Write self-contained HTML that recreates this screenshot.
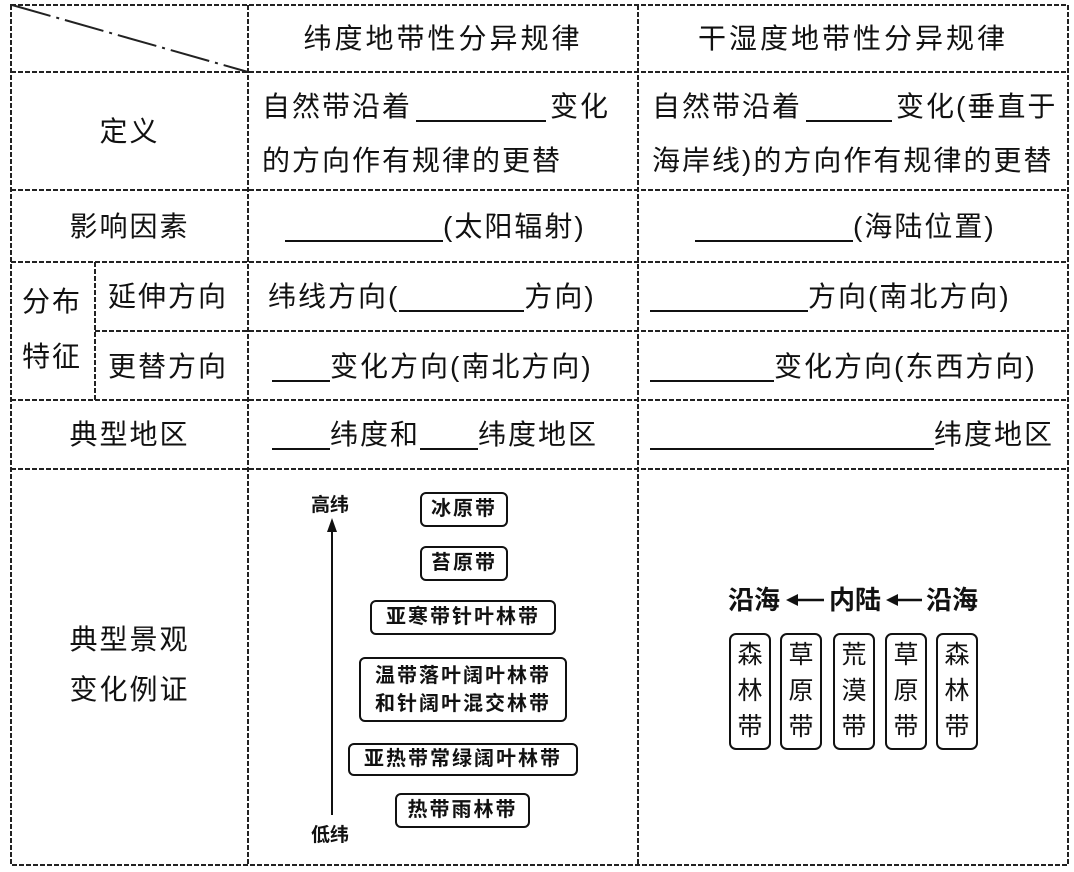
<!DOCTYPE html>
<html><head><meta charset="utf-8"><style>
body{margin:0;width:1074px;height:872px;background:#fff;position:relative;overflow:hidden;font-family:"Liberation Sans","Noto Sans CJK SC",sans-serif;color:#111}
.t{position:absolute;font-size:28px;line-height:34px;white-space:nowrap;letter-spacing:2px}
.c{text-align:center}
.u{display:inline-block;border-bottom:2px solid #111;height:30px;vertical-align:-6px}
.b{position:absolute;border:2px solid #111;border-radius:6px;box-sizing:border-box;font-weight:bold;font-size:20px;text-align:center;letter-spacing:2px}
.s{position:absolute;font-weight:bold;font-size:19px}
.v{position:absolute;border:2px solid #111;border-radius:7px;box-sizing:border-box;font-size:25px;line-height:36px;text-align:center;padding-top:2px;width:42px;top:633px;height:117px}
.h{position:absolute;top:583px;font-size:26px;font-weight:bold;line-height:34px}
</style></head><body>
<svg width="1074" height="872" style="position:absolute;left:0;top:0">
<g stroke="#222" stroke-width="2" stroke-dasharray="5,2" fill="none">
<rect x="11" y="5" width="1057" height="860"/>
<line x1="248" y1="5" x2="248" y2="865"/>
<line x1="638" y1="5" x2="638" y2="865"/>
<line x1="11" y1="72" x2="1068" y2="72"/>
<line x1="11" y1="190" x2="1068" y2="190"/>
<line x1="11" y1="262" x2="1068" y2="262"/>
<line x1="95" y1="331" x2="1068" y2="331"/>
<line x1="95" y1="262" x2="95" y2="400"/>
<line x1="11" y1="400" x2="1068" y2="400"/>
<line x1="11" y1="469" x2="1068" y2="469"/>
</g>
<line x1="12" y1="5" x2="248" y2="72" stroke="#222" stroke-width="2" stroke-dasharray="40,6,3,6"/>
<line x1="332" y1="815" x2="332" y2="530" stroke="#111" stroke-width="2"/>
<polygon points="332,518 327,532 337,532" fill="#111"/>
<line x1="792" y1="600" x2="824" y2="600" stroke="#111" stroke-width="2.5"/>
<polygon points="786,600 798,594 798,606" fill="#111"/>
<line x1="892" y1="600" x2="922" y2="600" stroke="#111" stroke-width="2.5"/>
<polygon points="886,600 898,594 898,606" fill="#111"/>
</svg>
<div class="t c" style="left:248px;width:390px;top:22px;letter-spacing:3px">纬度地带性分异规律</div>
<div class="t c" style="left:638px;width:430px;top:22px;letter-spacing:3px">干湿度地带性分异规律</div>
<div class="t c" style="left:11px;width:237px;top:115px">定义</div>
<div class="t" style="left:262px;top:90px">自然带沿着<span class="u" style="width:130px;margin:0 4px"></span>变化</div>
<div class="t" style="left:262px;top:144px">的方向作有规律的更替</div>
<div class="t" style="left:652px;top:90px">自然带沿着<span class="u" style="width:86px;margin:0 4px"></span>变化(垂直于</div>
<div class="t" style="left:652px;top:144px">海岸线)的方向作有规律的更替</div>
<div class="t c" style="left:11px;width:237px;top:210px">影响因素</div>
<div class="t" style="left:285px;top:210px"><span class="u" style="width:158px"></span>(太阳辐射)</div>
<div class="t" style="left:695px;top:210px"><span class="u" style="width:158px"></span>(海陆位置)</div>
<div class="t" style="left:22px;top:285px">分布</div>
<div class="t" style="left:22px;top:340px">特征</div>
<div class="t" style="left:108px;top:280px">延伸方向</div>
<div class="t" style="left:108px;top:350px">更替方向</div>
<div class="t" style="left:268px;top:280px">纬线方向(<span class="u" style="width:125px"></span>方向)</div>
<div class="t" style="left:650px;top:280px"><span class="u" style="width:158px"></span>方向(南北方向)</div>
<div class="t" style="left:272px;top:350px"><span class="u" style="width:58px"></span>变化方向(南北方向)</div>
<div class="t" style="left:650px;top:350px"><span class="u" style="width:124px"></span>变化方向(东西方向)</div>
<div class="t c" style="left:11px;width:237px;top:418px">典型地区</div>
<div class="t" style="left:272px;top:418px"><span class="u" style="width:58px"></span>纬度和<span class="u" style="width:58px"></span>纬度地区</div>
<div class="t" style="left:650px;top:418px"><span class="u" style="width:284px"></span>纬度地区</div>
<div class="t c" style="left:11px;width:237px;top:623px">典型景观</div>
<div class="t c" style="left:11px;width:237px;top:673px">变化例证</div>
<div class="s" style="left:311px;top:490px">高纬</div>
<div class="s" style="left:311px;top:820px">低纬</div>
<div class="b" style="left:420px;top:492px;width:88px;height:35px;line-height:31px">冰原带</div>
<div class="b" style="left:420px;top:546px;width:88px;height:35px;line-height:31px">苔原带</div>
<div class="b" style="left:370px;top:600px;width:186px;height:35px;line-height:31px">亚寒带针叶林带</div>
<div class="b" style="left:359px;top:657px;width:208px;height:65px;line-height:28px;padding-top:3px">温带落叶阔叶林带<br>和针阔叶混交林带</div>
<div class="b" style="left:348px;top:743px;width:230px;height:33px;line-height:29px">亚热带常绿阔叶林带</div>
<div class="b" style="left:395px;top:793px;width:135px;height:35px;line-height:31px">热带雨林带</div>
<div class="h" style="left:728px">沿海</div>
<div class="h" style="left:829px">内陆</div>
<div class="h" style="left:926px">沿海</div>
<div class="v" style="left:729px">森<br>林<br>带</div>
<div class="v" style="left:780px">草<br>原<br>带</div>
<div class="v" style="left:833px">荒<br>漠<br>带</div>
<div class="v" style="left:885px">草<br>原<br>带</div>
<div class="v" style="left:936px">森<br>林<br>带</div>
</body></html>
